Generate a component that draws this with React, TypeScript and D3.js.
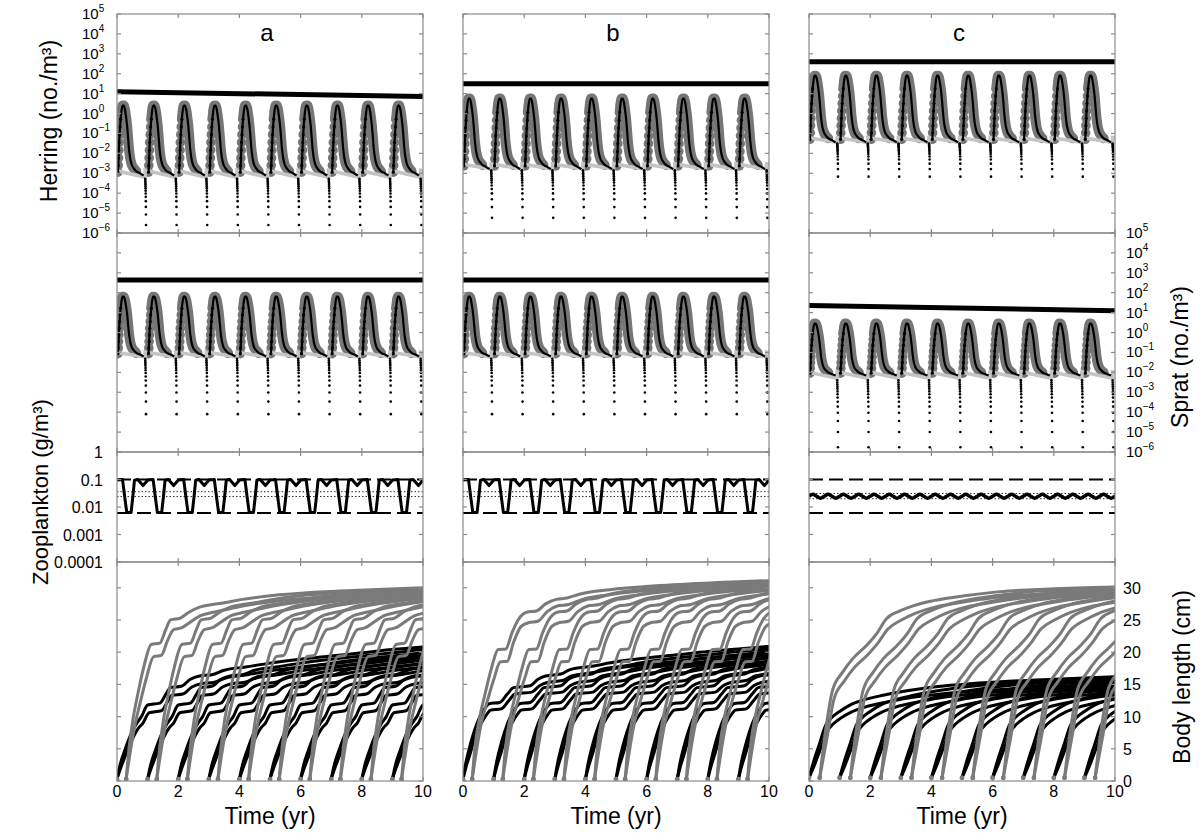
import React from "react";
import * as d3 from "d3";

const FONT = "'Liberation Sans', Arial, Helvetica, sans-serif";
const FRAME = "#8a8a8a";

// layout
const COLS = [117, 463, 809];
const PW = 306;
const HERRING_ROW = [14, 233];
const SPRAT_ROW = [233, 452];
const ZOO_ROW = [452, 562];
const BODY_ROW = [562, 781];

const PANELS = ["a", "b", "c"];
const YEARS = [0, 1, 2, 3, 4, 5, 6, 7, 8, 9];
const SAW_YEARS = [0, 1, 2, 3, 4, 5, 6, 7, 8, 9, 10];
const X_TICKS = [0, 2, 4, 6, 8, 10];
const ABUND_EXP = [5, 4, 3, 2, 1, 0, -1, -2, -3, -4, -5, -6];
const ZOO_TICKS = [1, 0.1, 0.01, 0.001, 0.0001];
const ZOO_LABELS = ["1", "0.1", "0.01", "0.001", "0.0001"];
const LENGTH_TICKS = [0, 5, 10, 15, 20, 25, 30];

// one yearly recruitment pulse: age in year, fraction between baseline (0) and peak (1)
const CYCLE_AGE = [0, 0.01, 0.02, 0.03, 0.04, 0.055, 0.07, 0.09, 0.115, 0.15, 0.19, 0.23, 0.265, 0.3, 0.33, 0.36, 0.4, 0.45, 0.52, 0.6, 0.72, 0.84];
const CYCLE_FRAC = [-0.03, 0.075, 0.19, 0.31, 0.43, 0.55, 0.67, 0.79, 0.91, 1.0, 1.0, 0.94, 0.83, 0.69, 0.52, 0.34, 0.19, 0.09, 0.03, -0.015, -0.045, -0.08];
const RISE_N = 8;
const CYCLE_OFFSET = 0.03;

// dying cohort at end of year: time step and fraction of the drop
const DROP_DT = [0, 0.002, 0.004, 0.006, 0.008, 0.01, 0.012, 0.014, 0.016, 0.018, 0.02, 0.022, 0.024, 0.026, 0.028];
const DROP_FRAC = [0, 0.03, 0.06, 0.09, 0.12, 0.15, 0.19, 0.23, 0.28, 0.34, 0.41, 0.5, 0.62, 0.78, 1.0];
const DROP_AT = 0.92;

// herring densities (log10 no./m3) per panel a, b, c
const HERRING_ADULT_START = [1.1, 1.5, 2.6];
const HERRING_ADULT_END = [0.85, 1.5, 2.6];
const HERRING_PEAK = [0.4, 0.75, 1.9];
const HERRING_BASE_START = [-2.85, -2.53, -1.2];
const HERRING_BASE_END = [-3.2, -2.78, -1.45];
const HERRING_DROP = [-5.6, -5.24, -3.17];

// sprat densities (log10 no./m3)
const SPRAT_ADULT_START = [2.64, 2.64, 1.36];
const SPRAT_ADULT_END = [2.64, 2.64, 1.1];
const SPRAT_PEAK = [1.8, 1.8, 0.45];
const SPRAT_BASE_START = [-0.98, -0.98, -1.97];
const SPRAT_BASE_END = [-1.23, -1.23, -2.3];
const SPRAT_DROP = [-4.1, -4.1, -5.76];

// zooplankton (log10 g/m3)
const ZOO_AGE_AB = [0, 0.18, 0.26, 0.32, 0.46, 0.52, 0.57, 0.68, 0.85, 1.0];
const ZOO_LOG_AB = [-1.02, -1.0, -1.7, -2.2, -2.2, -1.6, -1.03, -1.0, -1.22, -1.03];
const ZOO_AGE_C = [0, 0.125, 0.25, 0.375, 0.5, 0.625, 0.75, 0.875];
const ZOO_LOG_C = [-1.61, -1.54, -1.61, -1.68, -1.61, -1.54, -1.61, -1.68];
const ZOO_DASH = [0.1, 0.006];
const ZOO_DOT_A = [0.036, 0.024];
const ZOO_DOT_B = [0.036, 0.024];
const ZOO_DOT_C = [0.031, 0.02];

// body length growth of one cohort: [age (yr), length (cm)]
const HERRING_START = [0.3, 0.3, 0.35];
const SPRAT_START = [0, 0, 0];

const HERRING_UP_A = [[0, 0.3], [0.08, 4.5], [0.22, 9.5], [0.38, 13.5], [0.58, 17.8], [0.82, 21.2], [1.1, 21.4], [1.3, 23.6], [1.45, 25], [1.77, 25.3], [2.05, 26.2], [2.4, 27], [2.8, 27.4], [3.1, 27.6], [3.8, 28.2], [5, 28.9], [6.5, 29.4], [8, 29.7], [9.7, 30.0]];
const HERRING_LO_A = [[0, 0.3], [0.1, 3.5], [0.28, 8.5], [0.45, 12], [0.65, 15.8], [0.9, 19.3], [1.15, 19.5], [1.35, 21.8], [1.55, 23.5], [1.82, 23.8], [2.1, 24.7], [2.45, 25.7], [2.85, 26.2], [3.15, 26.5], [3.85, 27.2], [5, 28], [6.5, 28.6], [8, 29], [9.7, 29.3]];
const SPRAT_UP_A = [[0, 0.3], [0.1, 2.5], [0.25, 4.7], [0.45, 7.2], [0.65, 9], [0.8, 10], [1.0, 11.8], [1.4, 12.1], [1.6, 13.5], [1.75, 14.5], [2.1, 14.7], [2.4, 15.8], [2.7, 16.3], [3.1, 16.5], [3.5, 17.2], [4.2, 17.7], [5, 18.3], [6, 18.9], [7, 19.4], [8, 19.9], [9, 20.4], [10, 20.8]];
const SPRAT_LO_A = [[0, 0.3], [0.12, 2], [0.28, 4], [0.5, 6.5], [0.7, 8.2], [0.85, 9], [1.05, 10.6], [1.45, 10.9], [1.65, 12.3], [1.8, 13.3], [2.15, 13.5], [2.45, 14.6], [2.75, 15.1], [3.15, 15.3], [3.55, 16], [4.25, 16.5], [5, 17.1], [6, 17.7], [7, 18.2], [8, 18.7], [9, 19.1], [10, 19.5]];

const HERRING_UP_B = [[0, 0.3], [0.08, 4.8], [0.25, 10], [0.41, 13.3], [0.63, 17.5], [0.85, 20.4], [1.1, 20.5], [1.3, 23], [1.5, 25], [1.78, 26.2], [2.1, 26.4], [2.4, 27.5], [2.75, 28.2], [3.1, 28.4], [3.5, 29], [4.5, 29.7], [6, 30.3], [8, 30.8], [9.7, 31.1]];
const HERRING_LO_B = [[0, 0.3], [0.1, 3.5], [0.3, 9], [0.5, 12.5], [0.72, 16], [0.92, 18.5], [1.15, 18.6], [1.35, 21.5], [1.6, 24], [1.85, 24.6], [2.15, 24.8], [2.45, 26.3], [2.8, 27.2], [3.15, 27.4], [3.6, 28.2], [4.6, 29], [6, 29.7], [8, 30.2], [9.7, 30.5]];
const SPRAT_UP_B = [[0, 0.3], [0.1, 3], [0.2, 5], [0.35, 7.5], [0.55, 10], [0.75, 11.5], [0.85, 12], [1.2, 12.2], [1.45, 13.5], [1.65, 14.5], [2.2, 14.8], [2.45, 15.8], [2.7, 16.3], [3.2, 16.6], [3.5, 17.3], [4.2, 17.8], [5, 18.5], [6, 19.1], [7, 19.6], [8, 20.1], [9, 20.5], [10, 20.9]];
const SPRAT_LO_B = [[0, 0.3], [0.12, 2.5], [0.25, 4.5], [0.4, 7], [0.6, 9], [0.8, 10.5], [0.9, 11], [1.25, 11.2], [1.5, 12.5], [1.7, 13.5], [2.25, 13.8], [2.5, 14.8], [2.75, 15.3], [3.25, 15.6], [3.55, 16.3], [4.2, 16.8], [5, 17.5], [6, 18.1], [7, 18.6], [8, 19.1], [9, 19.5], [10, 19.9]];

const HERRING_UP_C = [[0, 0.5], [0.2, 8.1], [0.42, 14.1], [0.75, 16.9], [1.08, 19], [1.52, 21], [1.85, 22.8], [2.18, 25.2], [2.62, 26.4], [3.05, 27.2], [3.72, 28], [4.8, 28.8], [5.9, 29.4], [7.5, 29.8], [9.65, 30.1]];
const HERRING_LO_C = [[0, 0.5], [0.25, 7], [0.47, 12.8], [0.8, 15.5], [1.13, 17.6], [1.57, 19.6], [1.9, 21.4], [2.23, 23.6], [2.67, 25], [3.1, 26], [3.77, 27], [4.85, 27.9], [5.95, 28.6], [7.5, 29.1], [9.65, 29.5]];
const SPRAT_UP_C = [[0, 0.5], [0.15, 3], [0.33, 5.6], [0.55, 8.7], [0.71, 9.7], [1.0, 10.8], [1.32, 11.75], [1.8, 12.6], [2.42, 13.3], [3.2, 14], [4.07, 14.6], [5, 15], [6.26, 15.4], [8, 15.8], [10, 16.2]];
const SPRAT_LO_C = [[0, 0.5], [0.18, 2.5], [0.38, 5], [0.6, 7.8], [0.78, 8.8], [1.05, 9.8], [1.38, 10.7], [1.85, 11.5], [2.48, 12.2], [3.25, 12.9], [4.1, 13.4], [5, 13.8], [6.3, 14.2], [8, 14.6], [10, 14.9]];

const HERRING_GROWTH = [[HERRING_UP_A, HERRING_LO_A], [HERRING_UP_B, HERRING_LO_B], [HERRING_UP_C, HERRING_LO_C]];
const SPRAT_GROWTH = [[SPRAT_UP_A, SPRAT_LO_A], [SPRAT_UP_B, SPRAT_LO_B], [SPRAT_UP_C, SPRAT_LO_C]];

type Pt = [number, number];

function xScale(col: number) {
  return d3.scaleLinear().domain([0, 10]).range([COLS[col], COLS[col] + PW]);
}

function Frame({ col, top, bottom, yTicks }: { col: number; top: number; bottom: number; yTicks: number[] }) {
  const x = xScale(col);
  const x0 = COLS[col], x1 = COLS[col] + PW;
  return (
    <g stroke={FRAME} strokeWidth={1.2} fill="none">
      <rect x={x0} y={top} width={PW} height={bottom - top} />
      {X_TICKS.map(t => (
        <g key={"xt" + t}>
          <line x1={x(t)} x2={x(t)} y1={top} y2={top + 4} />
          <line x1={x(t)} x2={x(t)} y1={bottom} y2={bottom - 4} />
        </g>
      ))}
      {yTicks.map((yy, i) => (
        <g key={"yt" + i}>
          <line x1={x0} x2={x0 + 4} y1={yy} y2={yy} />
          <line x1={x1} x2={x1 - 4} y1={yy} y2={yy} />
        </g>
      ))}
    </g>
  );
}

function AbundancePanel(props: {
  id: string; col: number; top: number; bottom: number;
  adult: [number, number]; peak: number; bs: number; be: number; drop: number;
}) {
  const { id, col, top, bottom, adult, peak, bs, be, drop } = props;
  const x = xScale(col);
  const y = d3.scaleLog().domain([1e-6, 1e5]).range([bottom, top]);
  const line = d3.line<Pt>().x(d => x(d[0])).y(d => y(Math.pow(10, d[1])));
  const smooth = d3.line<Pt>().x(d => x(d[0])).y(d => y(Math.pow(10, d[1]))).curve(d3.curveMonotoneX);

  const saw: Pt[] = [];
  SAW_YEARS.forEach(k => {
    saw.push([k - 1 + DROP_AT, bs]);
    saw.push([k + DROP_AT, be]);
  });

  const cycles: Pt[][] = YEARS.map(k =>
    CYCLE_AGE.map((a, j) => [k + CYCLE_OFFSET + a, bs + CYCLE_FRAC[j] * (peak - bs)] as Pt)
  );
  const drops: Pt[][] = YEARS.map(k =>
    DROP_DT.map((dt, j) => [k + DROP_AT + dt, be + DROP_FRAC[j] * (drop - be)] as Pt)
  );
  const yTicks = ABUND_EXP.map(e => y(Math.pow(10, e)));

  return (
    <g>
      <clipPath id={id}>
        <rect x={COLS[col]} y={top} width={PW} height={bottom - top} />
      </clipPath>
      <g clipPath={`url(#${id})`}>
        {cycles.map((c, i) => (
          <g key={i}>
            <path d={smooth(c.slice(RISE_N - 1, -2)) || ""} fill="none" stroke="#767676" strokeWidth={10} strokeLinecap="round" strokeLinejoin="round" />
            {c.slice(0, RISE_N + 1).map((p, j) => (
              <circle key={j} cx={x(p[0])} cy={y(Math.pow(10, p[1]))} r={4.8} fill="#767676" />
            ))}
          </g>
        ))}
        <path d={line(saw) || ""} fill="none" stroke="#c4c4c4" strokeWidth={3.5} />
        {cycles.map((c, i) => (
          <g key={"b" + i}>
            <path d={smooth(c) || ""} fill="none" stroke="#000" strokeWidth={2.2} />
            {c.slice(0, RISE_N).map((p, j) => (
              <circle key={j} cx={x(p[0])} cy={y(Math.pow(10, p[1]))} r={1.6} fill="#000" />
            ))}
          </g>
        ))}
        {drops.map((dcol, i) => (
          <g key={"d" + i}>
            {dcol.slice(1).map((p, j) => (
              <circle key={j} cx={x(p[0])} cy={y(Math.pow(10, p[1]))} r={1.3} fill="#000" />
            ))}
          </g>
        ))}
        <path d={line([[0, adult[0]], [10, adult[1]]]) || ""} stroke="#000" strokeWidth={5} fill="none" />
      </g>
      <Frame col={col} top={top} bottom={bottom} yTicks={yTicks} />
    </g>
  );
}

function ZooPanel({ id, col }: { id: string; col: number }) {
  const [top, bottom] = ZOO_ROW;
  const x = xScale(col);
  const y = d3.scaleLog().domain([1e-4, 1]).range([bottom, top]);
  const isC = col === 2;
  const ages = isC ? ZOO_AGE_C : ZOO_AGE_AB;
  const vals = isC ? ZOO_LOG_C : ZOO_LOG_AB;
  const pts: Pt[] = [];
  SAW_YEARS.forEach(k => ages.forEach((a, j) => pts.push([k + a, vals[j]])));
  const line = d3.line<Pt>().x(d => x(d[0])).y(d => y(Math.pow(10, d[1])))
    .curve(isC ? d3.curveCardinal : d3.curveLinear);
  const dots = col === 0 ? ZOO_DOT_A : col === 1 ? ZOO_DOT_B : ZOO_DOT_C;
  return (
    <g>
      <clipPath id={id}>
        <rect x={COLS[col]} y={top} width={PW} height={bottom - top} />
      </clipPath>
      <g clipPath={`url(#${id})`}>
        {ZOO_DASH.map(v => (
          <line key={v} x1={x(0)} x2={x(10)} y1={y(v)} y2={y(v)} stroke="#000" strokeWidth={2} strokeDasharray="14,6" />
        ))}
        {dots.map(v => (
          <line key={v} x1={x(0)} x2={x(10)} y1={y(v)} y2={y(v)} stroke="#333" strokeWidth={1} strokeDasharray="1.5,2" />
        ))}
        <path d={line(pts) || ""} fill="none" stroke="#000" strokeWidth={isC ? 3.5 : 3} strokeLinejoin="round" />
      </g>
      <Frame col={col} top={top} bottom={bottom} yTicks={ZOO_TICKS.map(v => y(v))} />
    </g>
  );
}

function BodyPanel({ id, col }: { id: string; col: number }) {
  const [top, bottom] = BODY_ROW;
  const x = xScale(col);
  const y = d3.scaleLinear().domain([0, 34]).range([bottom, top]);
  const line = d3.line<number[]>().x(d => x(d[0])).y(d => y(d[1])).curve(d3.curveMonotoneX);
  const cohorts = (templates: number[][][], start: number) =>
    YEARS.flatMap(k => templates.map(tpl => tpl.map(p => [k + start + p[0], p[1]])));
  const sprat = cohorts(SPRAT_GROWTH[col], SPRAT_START[col]);
  const herring = cohorts(HERRING_GROWTH[col], HERRING_START[col]);
  return (
    <g>
      <clipPath id={id}>
        <rect x={COLS[col]} y={top} width={PW} height={bottom - top} />
      </clipPath>
      <g clipPath={`url(#${id})`}>
        {sprat.map((c, i) => (
          <path key={"s" + i} d={line(c) || ""} fill="none" stroke="#000" strokeWidth={3} />
        ))}
        {herring.map((c, i) => (
          <path key={"h" + i} d={line(c) || ""} fill="none" stroke="#7a7a7a" strokeWidth={3} />
        ))}
        {[...sprat, ...herring].map((c, i) => (
          <circle key={"o" + i} cx={x(c[0][0])} cy={y(c[0][1])} r={2.3} fill="#7a7a7a" />
        ))}
      </g>
      <Frame col={col} top={top} bottom={bottom} yTicks={LENGTH_TICKS.map(v => y(v))} />
    </g>
  );
}

function PowerLabel({ x, y, exp }: { x: number; y: number; exp: number }) {
  return (
    <text x={x} y={y} fontSize={15} fontFamily={FONT}>
      10<tspan fontSize={10} dy={-7}>{exp < 0 ? "\u2212" + Math.abs(exp) : String(exp)}</tspan>
    </text>
  );
}

export default function App() {
  const herY = d3.scaleLog().domain([1e-6, 1e5]).range([HERRING_ROW[1], HERRING_ROW[0]]);
  const spY = d3.scaleLog().domain([1e-6, 1e5]).range([SPRAT_ROW[1], SPRAT_ROW[0]]);
  const zooY = d3.scaleLog().domain([1e-4, 1]).range([ZOO_ROW[1], ZOO_ROW[0]]);
  const bodyY = d3.scaleLinear().domain([0, 34]).range([BODY_ROW[1], BODY_ROW[0]]);

  return (
    <svg width={1202} height={838} style={{ display: "block", position: "absolute", left: 0, top: 0, background: "#fff" }} fontFamily={FONT}>
      <rect width={1202} height={838} fill="#fff" />
      {PANELS.map((p, i) => (
        <g key={p}>
          <AbundancePanel id={"her" + i} col={i} top={HERRING_ROW[0]} bottom={HERRING_ROW[1]}
            adult={[HERRING_ADULT_START[i], HERRING_ADULT_END[i]]} peak={HERRING_PEAK[i]}
            bs={HERRING_BASE_START[i]} be={HERRING_BASE_END[i]} drop={HERRING_DROP[i]} />
          <AbundancePanel id={"spr" + i} col={i} top={SPRAT_ROW[0]} bottom={SPRAT_ROW[1]}
            adult={[SPRAT_ADULT_START[i], SPRAT_ADULT_END[i]]} peak={SPRAT_PEAK[i]}
            bs={SPRAT_BASE_START[i]} be={SPRAT_BASE_END[i]} drop={SPRAT_DROP[i]} />
          <ZooPanel id={"zoo" + i} col={i} />
          <BodyPanel id={"body" + i} col={i} />
          <text x={COLS[i] + PW / 2 - 3} y={41} fontSize={24} textAnchor="middle">{p}</text>
          {X_TICKS.map(t => (
            <text key={t} x={xScale(i)(t)} y={797} fontSize={16} textAnchor="middle">{t}</text>
          ))}
          <text x={COLS[i] + PW / 2} y={824} fontSize={23} textAnchor="middle">Time (yr)</text>
        </g>
      ))}

      {ABUND_EXP.map(e => (
        <PowerLabel key={"h" + e} x={82} y={herY(Math.pow(10, e)) + 5} exp={e} />
      ))}
      {ABUND_EXP.map(e => (
        <PowerLabel key={"s" + e} x={1126} y={spY(Math.pow(10, e)) + 5} exp={e} />
      ))}
      {ZOO_TICKS.map((v, i) => (
        <text key={v} x={103} y={zooY(v) + 6} fontSize={16} textAnchor="end">{ZOO_LABELS[i]}</text>
      ))}
      {LENGTH_TICKS.map(v => (
        <text key={v} x={1123} y={bodyY(v) + 6} fontSize={16}>{v}</text>
      ))}

      <text transform="translate(57,121) rotate(-90)" fontSize={23} textAnchor="middle">Herring (no./m³)</text>
      <text transform="translate(48,492) rotate(-90)" fontSize={22} textAnchor="middle">Zooplankton (g/m³)</text>
      <text transform="translate(1188,357) rotate(-90)" fontSize={23} textAnchor="middle">Sprat (no./m³)</text>
      <text transform="translate(1190,677) rotate(-90)" fontSize={23} textAnchor="middle">Body length (cm)</text>
    </svg>
  );
}
